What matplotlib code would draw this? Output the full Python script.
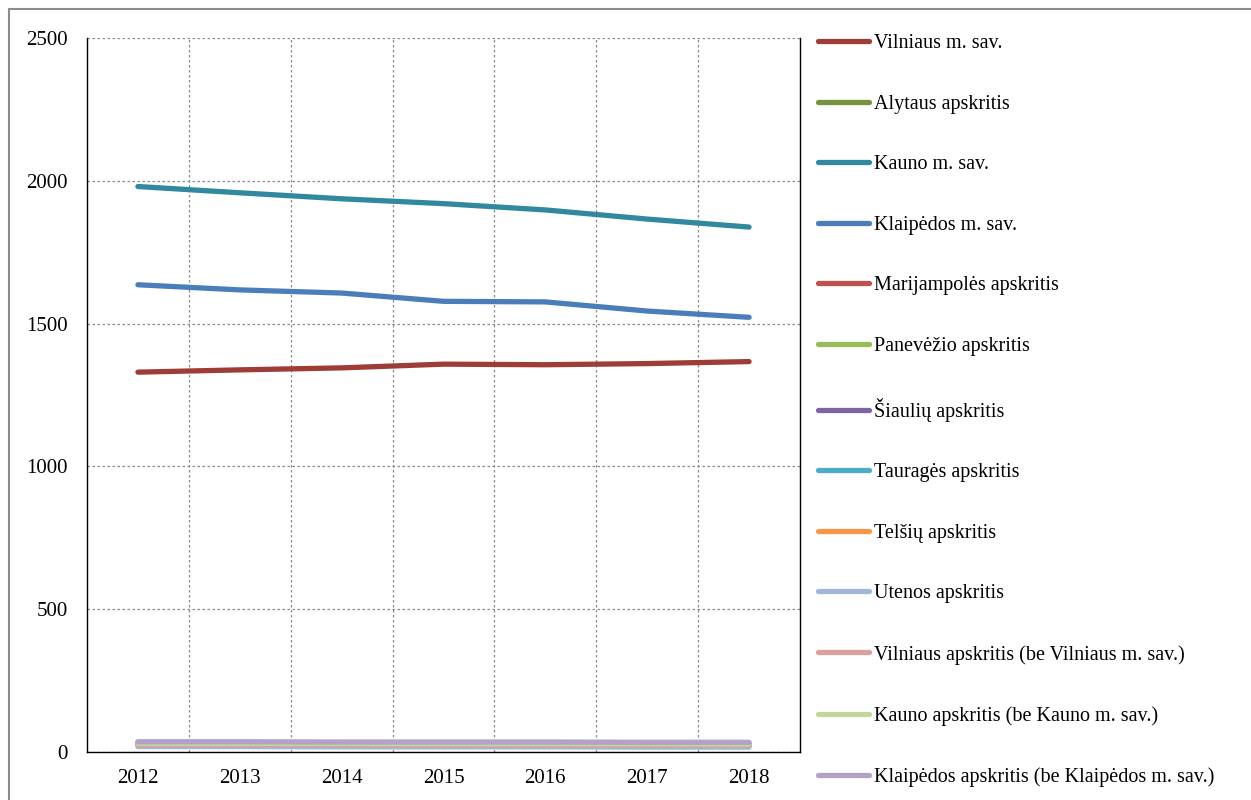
import matplotlib
matplotlib.use("Agg")
import matplotlib.pyplot as plt
from matplotlib.patches import Rectangle

years = ["2012", "2013", "2014", "2015", "2016", "2017", "2018"]

vilniaus_m = [1330, 1338, 1345, 1358, 1356, 1360, 1367]
alytaus = [30, 30, 29, 29, 28, 28, 27]
kauno_m = [1980, 1958, 1937, 1920, 1898, 1866, 1838]
klaipedos_m = [1636, 1618, 1607, 1578, 1576, 1544, 1522]
marijampoles = [28, 28, 27, 27, 27, 26, 26]
panevezio = [32, 32, 31, 31, 30, 30, 29]
siauliu = [33, 33, 32, 32, 31, 31, 30]
taurages = [25, 25, 25, 24, 24, 24, 23]
telsiu = [27, 27, 26, 26, 26, 25, 25]
utenos = [19, 19, 18, 18, 18, 17, 17]
vilniaus_apskr = [25, 25, 25, 24, 24, 24, 24]
kauno_apskr = [30, 30, 30, 29, 29, 29, 28]
klaipedos_apskr = [36, 36, 35, 35, 35, 34, 34]

labels = [
    "Vilniaus m. sav.",
    "Alytaus apskritis",
    "Kauno m. sav.",
    "Klaipėdos m. sav.",
    "Marijampolės apskritis",
    "Panevėžio apskritis",
    "Šiaulių apskritis",
    "Tauragės apskritis",
    "Telšių apskritis",
    "Utenos apskritis",
    "Vilniaus apskritis (be Vilniaus m. sav.)",
    "Kauno apskritis (be Kauno m. sav.)",
    "Klaipėdos apskritis (be Klaipėdos m. sav.)",
]
series = [vilniaus_m, alytaus, kauno_m, klaipedos_m, marijampoles, panevezio,
          siauliu, taurages, telsiu, utenos, vilniaus_apskr, kauno_apskr,
          klaipedos_apskr]
colors = ["#9E3C38", "#77933C", "#31899E", "#4A7EBB", "#C0504D", "#9BBB59",
          "#8064A2", "#4BACC6", "#F79646", "#A2B6DA", "#D9A09E", "#C3D69B",
          "#B3A2C7"]

plt.rcParams['font.family'] = ['Liberation Serif', 'DejaVu Serif']

fig = plt.figure(figsize=(12.51, 8.0), dpi=100)
fig.patches.append(Rectangle((9 / 1251, -0.05), 1.2, 1 - 9 / 800 + 0.05,
                             transform=fig.transFigure, fill=False,
                             edgecolor="#8C8C8C", linewidth=1.5))

ax = fig.add_axes([87 / 1251, 1 - 752 / 800, (800 - 87) / 1251, (752 - 38) / 800])
x = list(range(len(years)))
handles = []
for s, c, lab in zip(series, colors, labels):
    h, = ax.plot(x, s, color=c, linewidth=3.8, solid_capstyle='round',
                 solid_joinstyle='round', label=lab)
    handles.append(h)

ax.set_xlim(-0.5, len(years) - 0.5)
ax.set_ylim(0, 2500)
ax.set_yticks([0, 500, 1000, 1500, 2000, 2500])
ax.set_xticks(x)
ax.set_xticklabels(years)
ax.set_xticks([i + 0.5 for i in range(len(years) - 1)], minor=True)
ax.tick_params(axis='both', which='both', length=0, labelsize=15)
ax.tick_params(axis='y', pad=14)
ax.tick_params(axis='x', pad=12)
ax.grid(True, axis='y', which='major', color='#8A8A8A', linestyle=(0, (2, 2)), linewidth=0.9)
ax.grid(True, axis='x', which='minor', color='#8A8A8A', linestyle=(0, (2, 2)), linewidth=0.9)
ax.set_axisbelow(True)
for sp in ['left', 'bottom', 'right']:
    ax.spines[sp].set_color('black')
    ax.spines[sp].set_linewidth(1.0)
ax.spines['top'].set_visible(False)

leg = fig.legend(handles=handles, labels=labels, loc='upper left',
                 bbox_to_anchor=(810 / 1251, 1 - 26 / 800), frameon=False,
                 fontsize=14.5, handlelength=2.55, handletextpad=0.25,
                 labelspacing=2.06, borderaxespad=0)
for lh in leg.get_lines():
    lh.set_linewidth(3.8)

fig.savefig("out.png", dpi=100)
